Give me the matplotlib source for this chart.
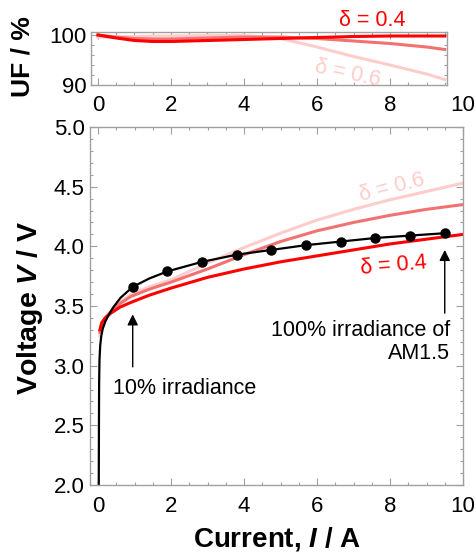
import matplotlib
matplotlib.use("Agg")
import matplotlib.pyplot as plt
from matplotlib.ticker import MultipleLocator, FormatStrFormatter

plt.rcParams['font.family'] = ['Liberation Sans', 'DejaVu Sans']
plt.rcParams['mathtext.fontset'] = 'custom'
plt.rcParams['mathtext.it'] = 'Liberation Sans:italic:bold'
plt.rcParams['mathtext.rm'] = 'Liberation Sans:bold'

# ---- data: top panel (utilisation factor) ----
uf_current = [0.0, 0.5, 1.0, 1.5, 2.0, 3.0, 4.0, 5.0, 6.0, 7.0, 8.0, 9.0, 9.5]
uf_d04 = [100.0, 99.4, 98.9, 98.7, 98.7, 98.9, 99.1, 99.3, 99.5, 99.7, 99.8, 99.8, 99.8]
uf_d05 = [100.0, 99.6, 99.3, 99.2, 99.2, 99.4, 99.6, 99.6, 99.3, 98.8, 98.3, 97.6, 97.1]
uf_d06 = [99.6, 99.6, 99.7, 99.8, 99.8, 99.9, 99.9, 99.3, 97.6, 95.7, 94.0, 92.2, 91.1]

# ---- data: bottom panel (V-I curves) ----
meas_current = [0.02, 0.025, 0.03, 0.04, 0.06, 0.09, 0.13, 0.2, 0.3, 0.42, 0.62, 0.95,
                1.4, 1.9, 2.85, 3.8, 4.75, 5.7, 6.65, 7.6, 8.55, 9.5]
meas_voltage = [2.0, 2.5, 2.85, 3.05, 3.17, 3.25, 3.31, 3.37, 3.43, 3.49, 3.57, 3.66,
                3.73, 3.79, 3.87, 3.93, 3.97, 4.01, 4.04, 4.07, 4.09, 4.11]
pts_current = [0.95, 1.9, 2.85, 3.8, 4.75, 5.7, 6.65, 7.6, 8.55, 9.5]
pts_voltage = [3.66, 3.79, 3.87, 3.93, 3.97, 4.01, 4.04, 4.07, 4.09, 4.11]

model_current = [0.05, 0.1, 0.2, 0.35, 0.6, 0.9, 1.4, 2.0, 3.0, 4.0, 5.0, 6.0, 7.0, 8.0, 9.0, 10.0]
v_d04 = [3.30, 3.36, 3.40, 3.44, 3.49, 3.53, 3.59, 3.65, 3.74, 3.81, 3.87, 3.92, 3.97, 4.02, 4.06, 4.10]
v_d05 = [3.28, 3.35, 3.40, 3.45, 3.52, 3.58, 3.64, 3.70, 3.81, 3.93, 4.04, 4.13, 4.20, 4.26, 4.31, 4.35]
v_d06 = [3.25, 3.33, 3.40, 3.46, 3.53, 3.60, 3.66, 3.72, 3.86, 3.99, 4.11, 4.22, 4.31, 4.39, 4.46, 4.53]

C04 = '#ff0000'
C05 = '#f27272'
C06 = '#ffcccc'
FRAME = '#a0a0a0'

W, H = 477, 552
fig = plt.figure(figsize=(W / 100, H / 100), dpi=100)

def box(l, r, t, b):
    return [l / W, 1 - b / H, (r - l) / W, (b - t) / H]

axt = fig.add_axes(box(91, 447, 32, 85))
axb = fig.add_axes(box(90, 463, 127, 485))

def style(ax):
    for s in ax.spines.values():
        s.set_color(FRAME)
        s.set_linewidth(1.0)
    ax.tick_params(which='both', direction='in', color=FRAME, top=True, right=True,
                   labelsize=16, width=0.8)
    ax.tick_params(which='major', length=5)
    ax.tick_params(which='minor', length=2.5)

# top panel
axt.plot(uf_current, uf_d06, color=C06, lw=2.2)
axt.plot(uf_current, uf_d05, color=C05, lw=2.2)
axt.plot(uf_current, uf_d04, color=C04, lw=2.2)
axt.set_xlim(-0.19, 9.56)
axt.set_ylim(90, 100.6)
axt.set_yticks([90, 100])
axt.yaxis.set_minor_locator(MultipleLocator(2))
axt.xaxis.set_major_locator(MultipleLocator(2))
axt.xaxis.set_minor_locator(MultipleLocator(0.5))
style(axt)
axt.tick_params(labelbottom=False, pad=3)
fig.text(372 / W, 1 - 21 / H, 'δ = 0.4', color=C04, fontsize=15.5, ha='center', va='center')
axt.text(6.85, 92.3, 'δ = 0.6', color=C06, fontsize=15.5, ha='center', va='center',
         rotation=-12)
fig.text(23 / W, 1 - 57 / H, 'UF / %', rotation=90, ha='center', va='center',
         fontsize=19, fontweight='bold')

# bottom panel
axb.plot(model_current, v_d06, color=C06, lw=2.2)
axb.plot(model_current, v_d05, color=C05, lw=2.2)
axb.plot(model_current, v_d04, color=C04, lw=2.2)
axb.plot(meas_current, meas_voltage, color='black', lw=1.6)
axb.plot(pts_current, pts_voltage, 'o', color='black', ms=6.5)
axb.set_xlim(-0.22, 10)
axb.set_ylim(2.0, 5.0)
axb.xaxis.set_major_locator(MultipleLocator(2))
axb.xaxis.set_minor_locator(MultipleLocator(0.5))
axb.yaxis.set_major_locator(MultipleLocator(0.5))
axb.yaxis.set_minor_locator(MultipleLocator(0.1))
axb.yaxis.set_major_formatter(FormatStrFormatter('%.1f'))
style(axb)
axb.tick_params(axis='x', labeltop=True, pad=8)
axb.tick_params(axis='y', pad=4)

axb.text(8.05, 4.49, 'δ = 0.6', color=C06, fontsize=15.5, ha='center', va='center',
         rotation=14)
axb.text(8.1, 3.84, 'δ = 0.4', color=C04, fontsize=15.5, ha='center', va='center',
         rotation=5)

ap = dict(arrowstyle='-|>', color='black', lw=1.0, mutation_scale=16, shrinkA=0, shrinkB=0)
axb.annotate('', xy=(0.95, 3.43), xytext=(0.95, 2.99), arrowprops=ap)
axb.annotate('', xy=(9.5, 3.97), xytext=(9.5, 3.44), arrowprops=ap)
axb.text(0.41, 2.81, '10% irradiance', fontsize=15.5, ha='left', va='center')
axb.text(9.64, 3.20, '100% irradiance of\nAM1.5', fontsize=15.5, ha='right', va='center',
         linespacing=1.15)

fig.text(277 / W, 1 - 539 / H, r'Current, $I$ / A', fontsize=20, fontweight='bold',
         ha='center', va='center')
fig.text(30 / W, 1 - 308 / H, r'Voltage $V$ / V', fontsize=20.5, fontweight='bold',
         ha='center', va='center', rotation=90)

fig.savefig('out.png', dpi=100)
